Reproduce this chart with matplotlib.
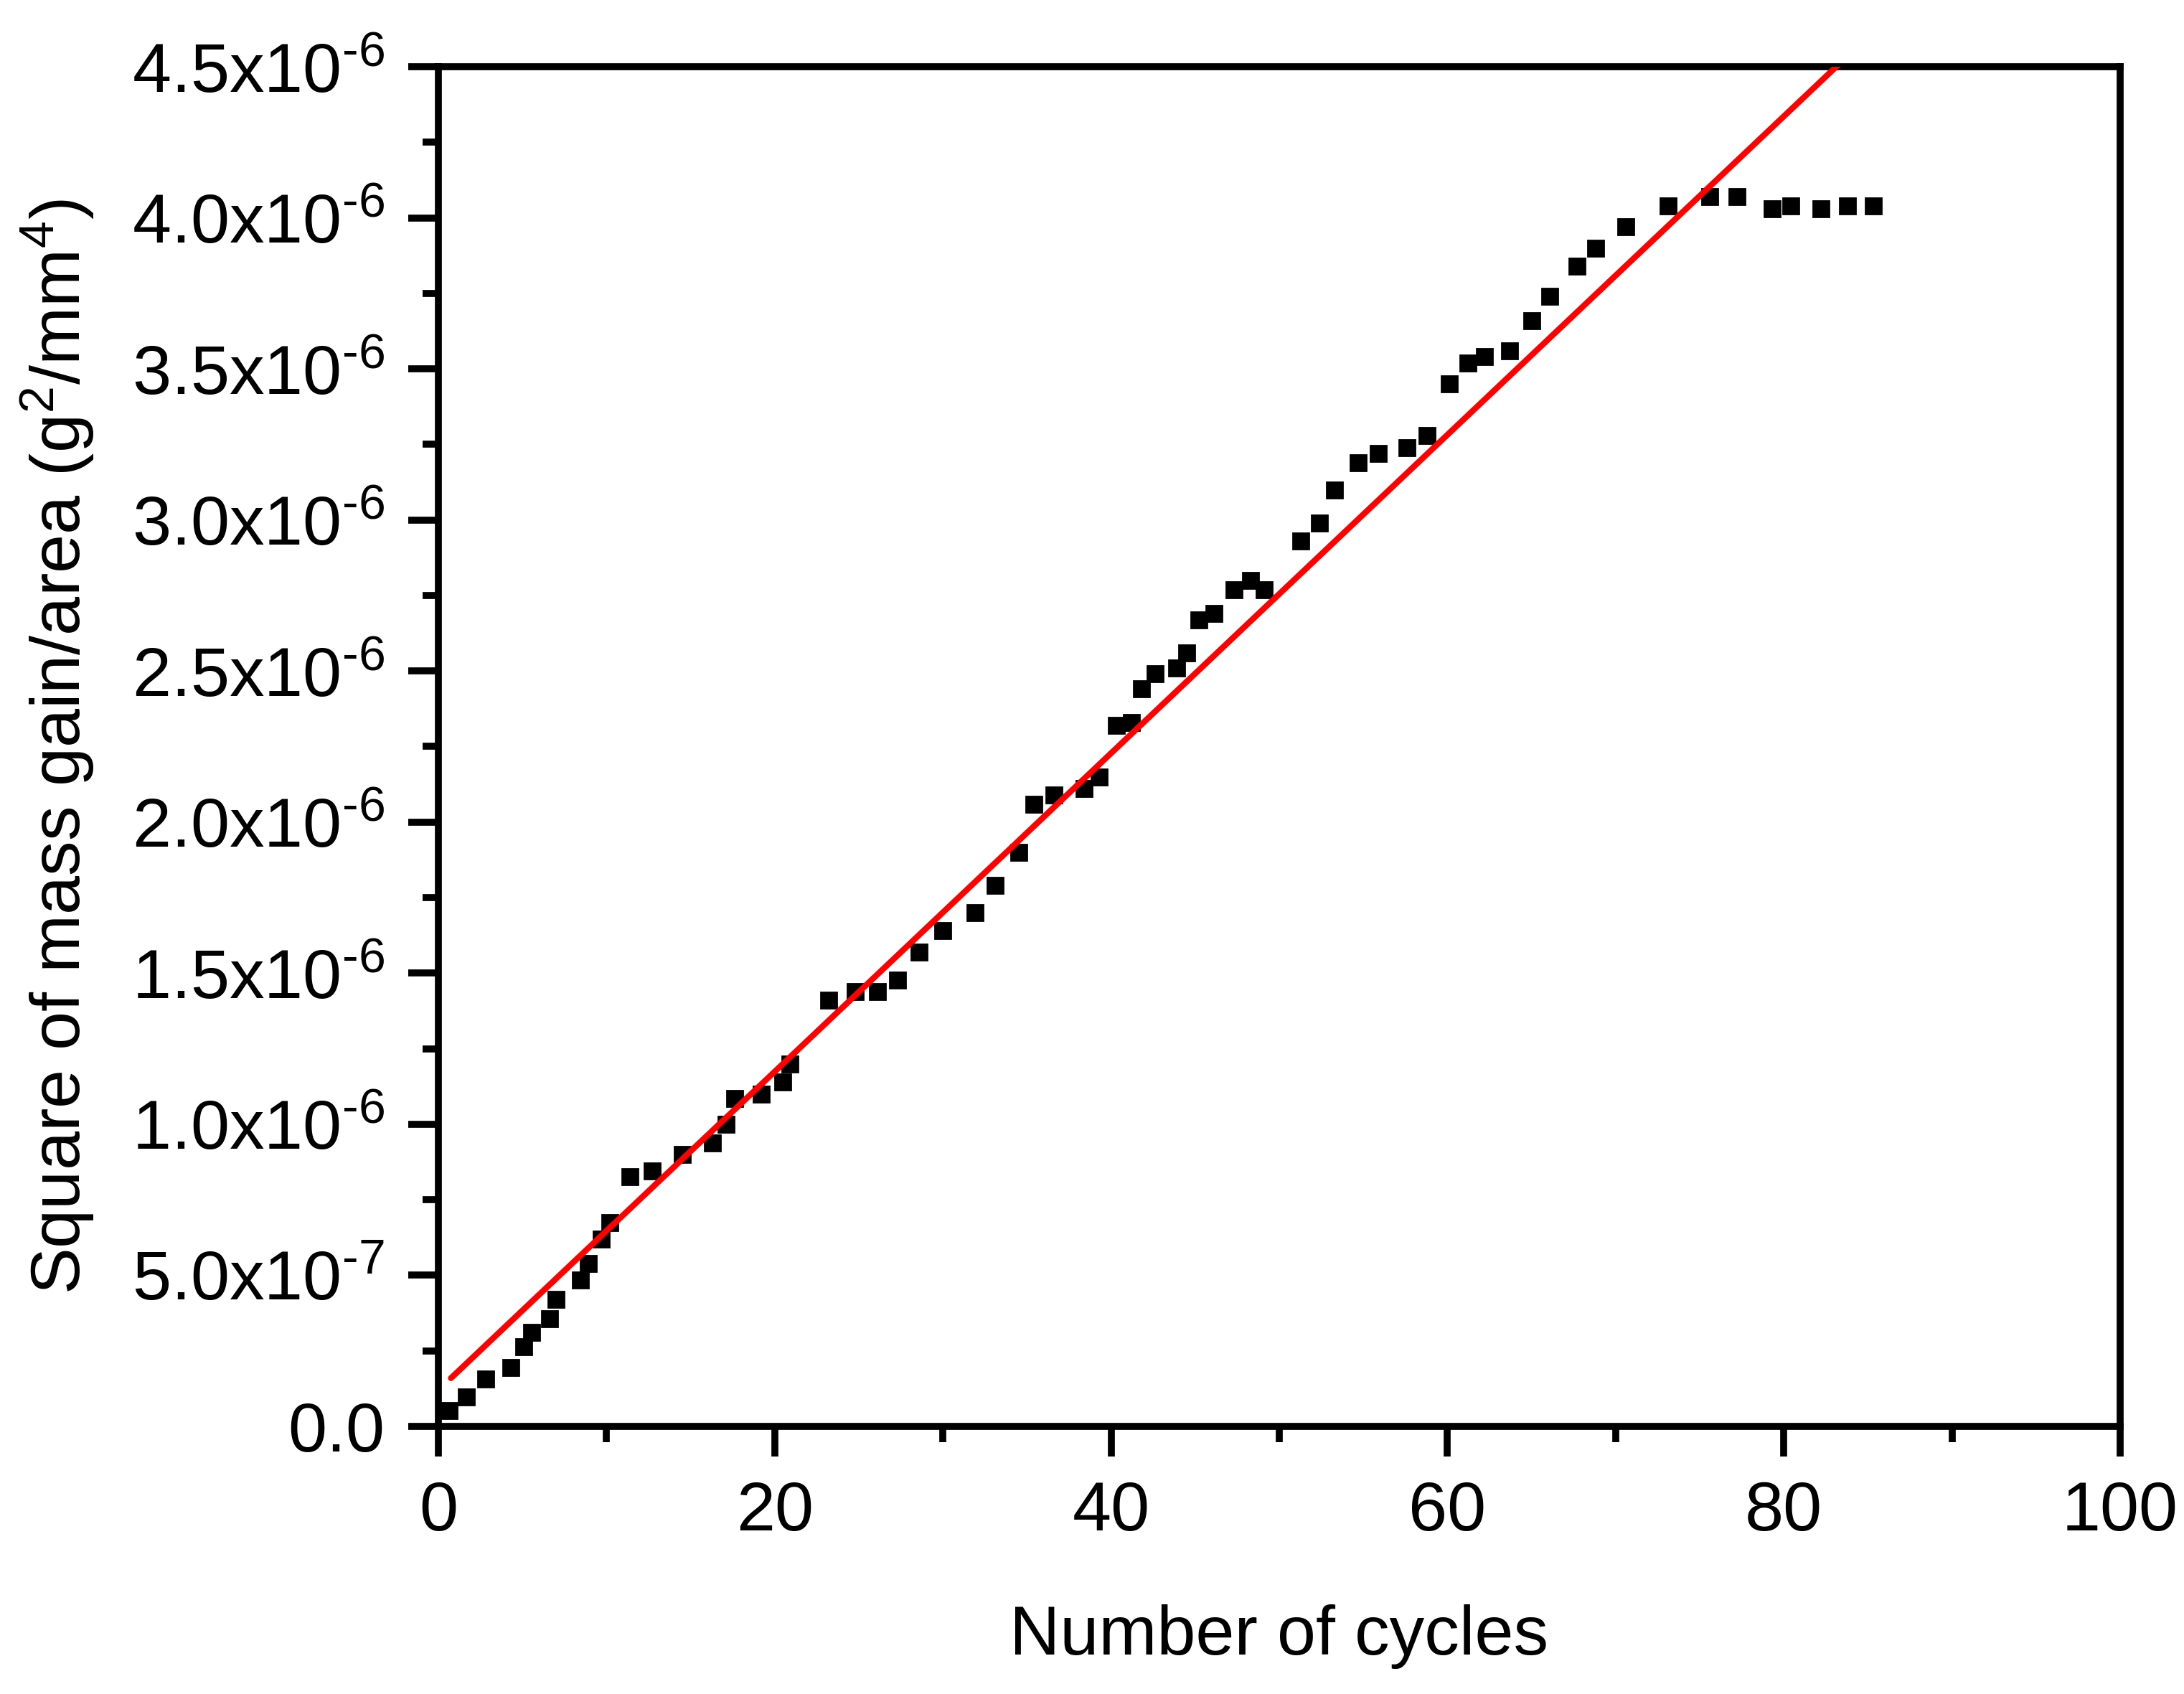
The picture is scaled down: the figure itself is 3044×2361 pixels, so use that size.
import matplotlib
matplotlib.use("Agg")
import matplotlib.pyplot as plt
import numpy as np

plt.rcParams['font.family'] = ['Liberation Sans', 'DejaVu Sans']
plt.rcParams['mathtext.fontset'] = 'custom'
plt.rcParams['mathtext.rm'] = 'Liberation Sans'
plt.rcParams['mathtext.it'] = 'Liberation Sans'

# measured data: number of cycles vs square of mass gain per area (x1e-6 g^2/mm^4)
cycles = [0.66, 1.66, 2.8, 4.3, 5.1, 5.55, 6.6, 7.0, 8.45, 8.9, 9.7, 10.2,
          11.4, 12.7, 14.5, 16.3, 17.1, 17.6, 19.2, 20.5, 20.9, 23.2, 24.8,
          26.1, 27.3, 28.6, 30.0, 31.9, 33.1, 34.5, 35.4, 36.6, 38.4, 39.3,
          40.3, 41.2, 41.8, 42.6, 43.9, 44.5, 45.2, 46.1, 47.3, 48.3, 49.1,
          51.3, 52.4, 53.3, 54.7, 55.9, 57.6, 58.8, 60.1, 61.2, 62.2, 63.7,
          65.0, 66.1, 67.7, 68.8, 70.6, 73.1, 75.6, 77.2, 79.3, 80.4, 82.2,
          83.8, 85.3]
mass_sq = [0.051, 0.097, 0.157, 0.194, 0.263, 0.31, 0.355, 0.42, 0.485, 0.54,
           0.62, 0.674, 0.826, 0.845, 0.90, 0.937, 1.00, 1.085, 1.10, 1.14,
           1.20, 1.41, 1.44, 1.44, 1.477, 1.57, 1.64, 1.70, 1.79, 1.90, 2.06,
           2.09, 2.11, 2.15, 2.32, 2.33, 2.44, 2.49, 2.51, 2.56, 2.67, 2.69,
           2.77, 2.80, 2.77, 2.93, 2.99, 3.10, 3.19, 3.22, 3.24, 3.28, 3.45,
           3.52, 3.54, 3.56, 3.66, 3.74, 3.84, 3.90, 3.97, 4.04, 4.07, 4.07,
           4.03, 4.04, 4.03, 4.04, 4.04]

# linear fit (x1e-6 per cycle), drawn from fit_start onwards
fit_slope = 0.0527
fit_intercept = 0.12
fit_start = 0.75
fit_end = 90

xticks = [0, 20, 40, 60, 80, 100]
yticks = [0, 0.5, 1.0, 1.5, 2.0, 2.5, 3.0, 3.5, 4.0, 4.5]
ytick_labels = ['0.0', '5.0x10$^{\u20107}$', '1.0x10$^{\u20106}$',
                '1.5x10$^{\u20106}$', '2.0x10$^{\u20106}$',
                '2.5x10$^{\u20106}$', '3.0x10$^{\u20106}$',
                '3.5x10$^{\u20106}$', '4.0x10$^{\u20106}$',
                '4.5x10$^{\u20106}$']

fig = plt.figure(figsize=(15.22, 11.805), dpi=200)
ax = fig.add_axes([0.2007, 0.158, 0.7701, 0.8026])

x = np.array(cycles)
y = np.array(mass_sq) * 1e-6
ax.plot(x, y, 's', color='black', markersize=8, zorder=3)

xf = np.array([fit_start, fit_end])
yf = (fit_slope * xf + fit_intercept) * 1e-6
ax.plot(xf, yf, '-', color='#ff0000', linewidth=3, solid_capstyle='round',
        zorder=4)

ax.set_xlim(0, 100)
ax.set_ylim(0, 4.5e-6)
ax.set_xticks(xticks)
ax.set_xticks(np.arange(10, 100, 20), minor=True)
ax.set_yticks(np.array(yticks) * 1e-6)
ax.set_yticklabels(ytick_labels)
ax.set_yticks(np.arange(0.25, 4.5, 0.5) * 1e-6, minor=True)

ax.tick_params(which='major', direction='out', length=15, width=3.5,
               labelsize=35, pad=12)
ax.tick_params(which='minor', direction='out', length=8, width=3.5)
for s in ax.spines.values():
    s.set_linewidth(3.5)

ax.set_xlabel('Number of cycles', fontsize=35, labelpad=30)
ax.set_ylabel(r'Square of mass gain/area (g$^2$/mm$^4$)',
              fontsize=35, labelpad=18)

fig.savefig('out.png', dpi=200, facecolor='white')
